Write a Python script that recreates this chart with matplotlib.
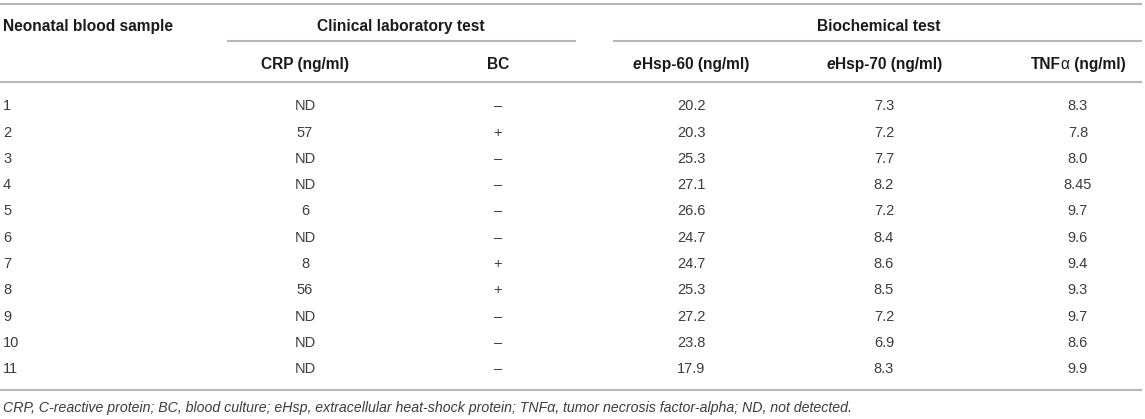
import matplotlib
matplotlib.use("Agg")
import matplotlib.pyplot as plt
from matplotlib.lines import Line2D

plt.rcParams['font.family'] = ['Liberation Sans', 'DejaVu Sans']

# table contents
samples = ['1', '2', '3', '4', '5', '6', '7', '8', '9', '10', '11']
crp = ['ND', '57', 'ND', 'ND', '6', 'ND', '8', '56', 'ND', 'ND', 'ND']
bc = ['–', '+', '–', '–', '–', '–', '+', '+', '–', '–', '–']
ehsp60 = ['20.2', '20.3', '25.3', '27.1', '26.6', '24.7', '24.7', '25.3', '27.2', '23.8', '17.9']
ehsp70 = ['7.3', '7.2', '7.7', '8.2', '7.2', '8.4', '8.6', '8.5', '7.2', '6.9', '8.3']
tnf = ['8.3', '7.8', '8.0', '8.45', '9.7', '9.6', '9.4', '9.3', '9.7', '8.6', '9.9']

group_labels = ['Clinical laboratory test', 'Biochemical test']
footnote = ('CRP, C-reactive protein; BC, blood culture; eHsp, extracellular heat-shock protein; '
            'TNFα, tumor necrosis factor-alpha; ND, not detected.')

W, H = 1145, 419
fig = plt.figure(figsize=(W / 100, H / 100), dpi=100)
fig.patch.set_facecolor('white')

def fx(x):
    return x / W

def fy(y):
    return 1 - y / H

rule_col = '#b8b8b8'
head_col = '#1a1a1a'
body_col = '#3c3c3c'

hsize = 11.2
bsize = 10.5
fsize = 10.15

def hline(x0, x1, y):
    fig.add_artist(Line2D([fx(x0), fx(x1)], [fy(y), fy(y)], color=rule_col, lw=1.5,
                          transform=fig.transFigure))

def text(x, y, s, size, **kw):
    # y is the visual centre of capitals; shift down to the baseline
    base = y + 0.36 * size * 100 / 72
    return fig.text(fx(x), fy(base), s, va='baseline', fontsize=size, **kw)

renderer = fig.canvas.get_renderer()

def rich_center(xc, y, parts, size):
    # parts: list of (string, style, weight); placed side by side, centred on xc
    objs = [text(0, y, s, size, ha='left', fontweight=wt, fontstyle=st, color=head_col)
            for s, st, wt in parts]
    widths = [t.get_window_extent(renderer).width for t in objs]
    x = xc - sum(widths) / 2
    for t, w in zip(objs, widths):
        t.set_x(fx(x))
        x += w

# rules
hline(0, 1141, 4)
hline(228, 575, 41)
hline(614, 1141, 41)
hline(0, 1141, 82)
hline(0, 1141, 390)

# header rows
text(3, 25, 'Neonatal blood sample', hsize, fontweight='bold', color=head_col)
text(401, 25, group_labels[0], hsize, ha='center', fontweight='bold', color=head_col)
text(879, 25, group_labels[1], hsize, ha='center', fontweight='bold', color=head_col)

col_x = [305, 498, 691, 884, 1078]
text(col_x[0], 63, 'CRP (ng/ml)', hsize, ha='center', fontweight='bold', color=head_col)
text(col_x[1], 63, 'BC', hsize, ha='center', fontweight='bold', color=head_col)
rich_center(col_x[2], 63, [('e', 'italic', 'bold'), ('Hsp-60 (ng/ml)', 'normal', 'bold')], hsize)
rich_center(col_x[3], 63, [('e', 'italic', 'bold'), ('Hsp-70 (ng/ml)', 'normal', 'bold')], hsize)
rich_center(col_x[4], 63, [('TNF', 'normal', 'bold'), ('α', 'normal', 'normal'),
                           (' (ng/ml)', 'normal', 'bold')], hsize)

# body
row0, step = 105, 26.3
for i in range(len(samples)):
    y = row0 + i * step
    text(3, y, samples[i], bsize, color=body_col)
    for xc, col in zip(col_x, [crp, bc, ehsp60, ehsp70, tnf]):
        text(xc, y, col[i], bsize, ha='center', color=body_col)

text(3, 407, footnote, fsize, fontstyle='italic', color=body_col)

fig.savefig('out.png', dpi=100, facecolor='white')
